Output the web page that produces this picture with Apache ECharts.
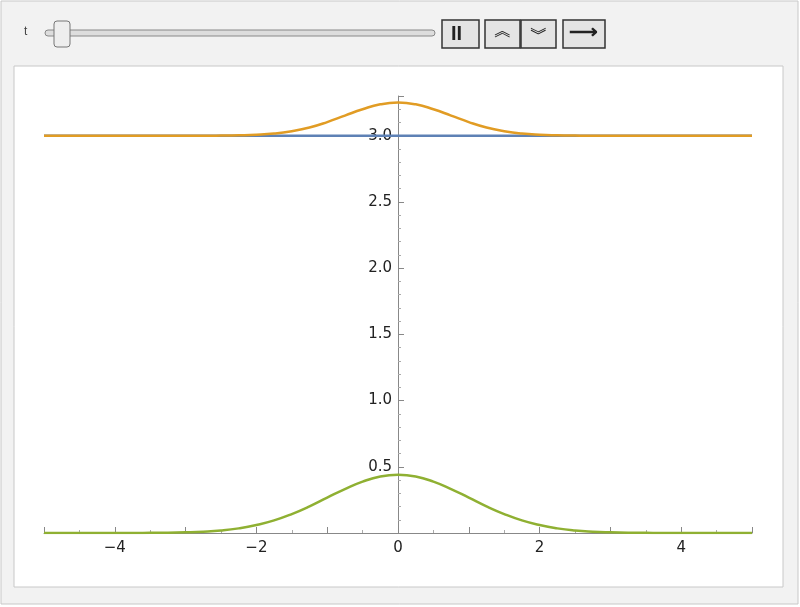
<!DOCTYPE html>
<html><head><meta charset="utf-8">
<script src="https://cdn.jsdelivr.net/npm/echarts@6/dist/echarts.min.js"></script>
<style>html,body{margin:0;padding:0;background:#fff}#c{width:800px;height:607px}</style>
</head><body><div id="c"></div>
<script>
const xs = [-5,-4.75,-4.5,-4.25,-4,-3.75,-3.5,-3.25,-3,-2.75,-2.5,-2.25,-2,-1.75,-1.5,-1.25,-1,-0.75,-0.5,-0.25,0,0.25,0.5,0.75,1,1.25,1.5,1.75,2,2.25,2.5,2.75,3,3.25,3.5,3.75,4,4.25,4.5,4.75,5];
const blueVals = xs.map(()=>3.0);
const orangeVals = [3,3,3,3,3,3,3,3,3,3,3.001,3.003,3.007,3.016,3.034,3.062,3.103,3.152,3.200,3.237,3.25,3.237,3.200,3.152,3.103,3.062,3.034,3.016,3.007,3.003,3.001,3,3,3,3,3,3,3,3,3,3];
const greenVals = [0,0,0,0,0,0,0.001,0.002,0.005,0.010,0.019,0.035,0.060,0.095,0.143,0.201,0.267,0.332,0.388,0.427,0.44,0.427,0.388,0.332,0.267,0.201,0.143,0.095,0.060,0.035,0.019,0.010,0.005,0.002,0.001,0,0,0,0,0,0];
const pair = v => xs.map((x,i)=>[x,v[i]]);
const ch = echarts.init(document.getElementById('c'));
const btn = (x,w)=>({type:'rect',shape:{x:x,y:20,width:w,height:28},style:{fill:'#e4e4e4',stroke:'#333',lineWidth:1.5}});
ch.setOption({
  animation:false,
  graphic:[
    {type:'rect',shape:{x:1,y:1,width:797,height:603},style:{fill:'#f2f2f2',stroke:'#c8c8c8'},z:-10},
    {type:'rect',shape:{x:14,y:66,width:769,height:521},style:{fill:'#fff',stroke:'#c8c8c8'},z:-9},
    {type:'text',x:24,y:26,style:{text:'t',font:'12px sans-serif',fill:'#444'}},
    {type:'rect',shape:{x:45,y:30,width:390,height:6,r:3},style:{fill:'#ddd',stroke:'#888'}},
    {type:'rect',shape:{x:54,y:21,width:16,height:26,r:3},style:{fill:'#eee',stroke:'#777'}},
    btn(442,37),btn(485,35),btn(521,35),btn(563,42),
    {type:'text',x:451,y:24,style:{text:'II',font:'bold 20px sans-serif',fill:'#222'}},
    {type:'text',x:494,y:22,style:{text:'︽',font:'18px sans-serif',fill:'#222'}},
    {type:'text',x:530,y:26,style:{text:'︾',font:'18px sans-serif',fill:'#222'}},
    {type:'text',x:569,y:22,style:{text:'⟶',font:'bold 20px sans-serif',fill:'#222'}}
  ],
  grid:{left:44,right:48,top:96,bottom:74},
  xAxis:{type:'value',min:-5,max:5,interval:1,
    axisLine:{onZero:true,lineStyle:{color:'#888'}},
    axisTick:{show:true,inside:true,length:6,lineStyle:{color:'#888'}},
    minorTick:{show:true,splitNumber:2,length:3,lineStyle:{color:'#aaa'}},
    splitLine:{show:false},
    axisLabel:{color:'#222',fontSize:15,fontFamily:'DejaVu Sans',showMinLabel:false,showMaxLabel:false,
      formatter:v=>{const r=Math.round(v);return (Math.abs(r)%2===0)?(r<0?'−'+(-r):''+r):'';}}},
  yAxis:{type:'value',min:0,max:3.3,interval:0.5,
    axisLine:{show:true,onZero:true,lineStyle:{color:'#888'}},
    axisTick:{show:true,inside:true,length:6,lineStyle:{color:'#888'}},
    minorTick:{show:true,splitNumber:5,length:3,lineStyle:{color:'#aaa'}},
    splitLine:{show:false},
    axisLabel:{color:'#222',fontSize:15,fontFamily:'DejaVu Sans',margin:-348,formatter:v=>(v>0.01&&Math.abs(v*2-Math.round(v*2))<1e-6)?v.toFixed(1):''}},
  series:[
    {type:'line',data:pair(blueVals),showSymbol:false,lineStyle:{color:'#5e81b5',width:2.5}},
    {type:'line',data:pair(orangeVals),showSymbol:false,smooth:true,lineStyle:{color:'#e19c24',width:2.5}},
    {type:'line',data:pair(greenVals),showSymbol:false,smooth:true,lineStyle:{color:'#8fb032',width:2.5}}
  ]
});
</script></body></html>
